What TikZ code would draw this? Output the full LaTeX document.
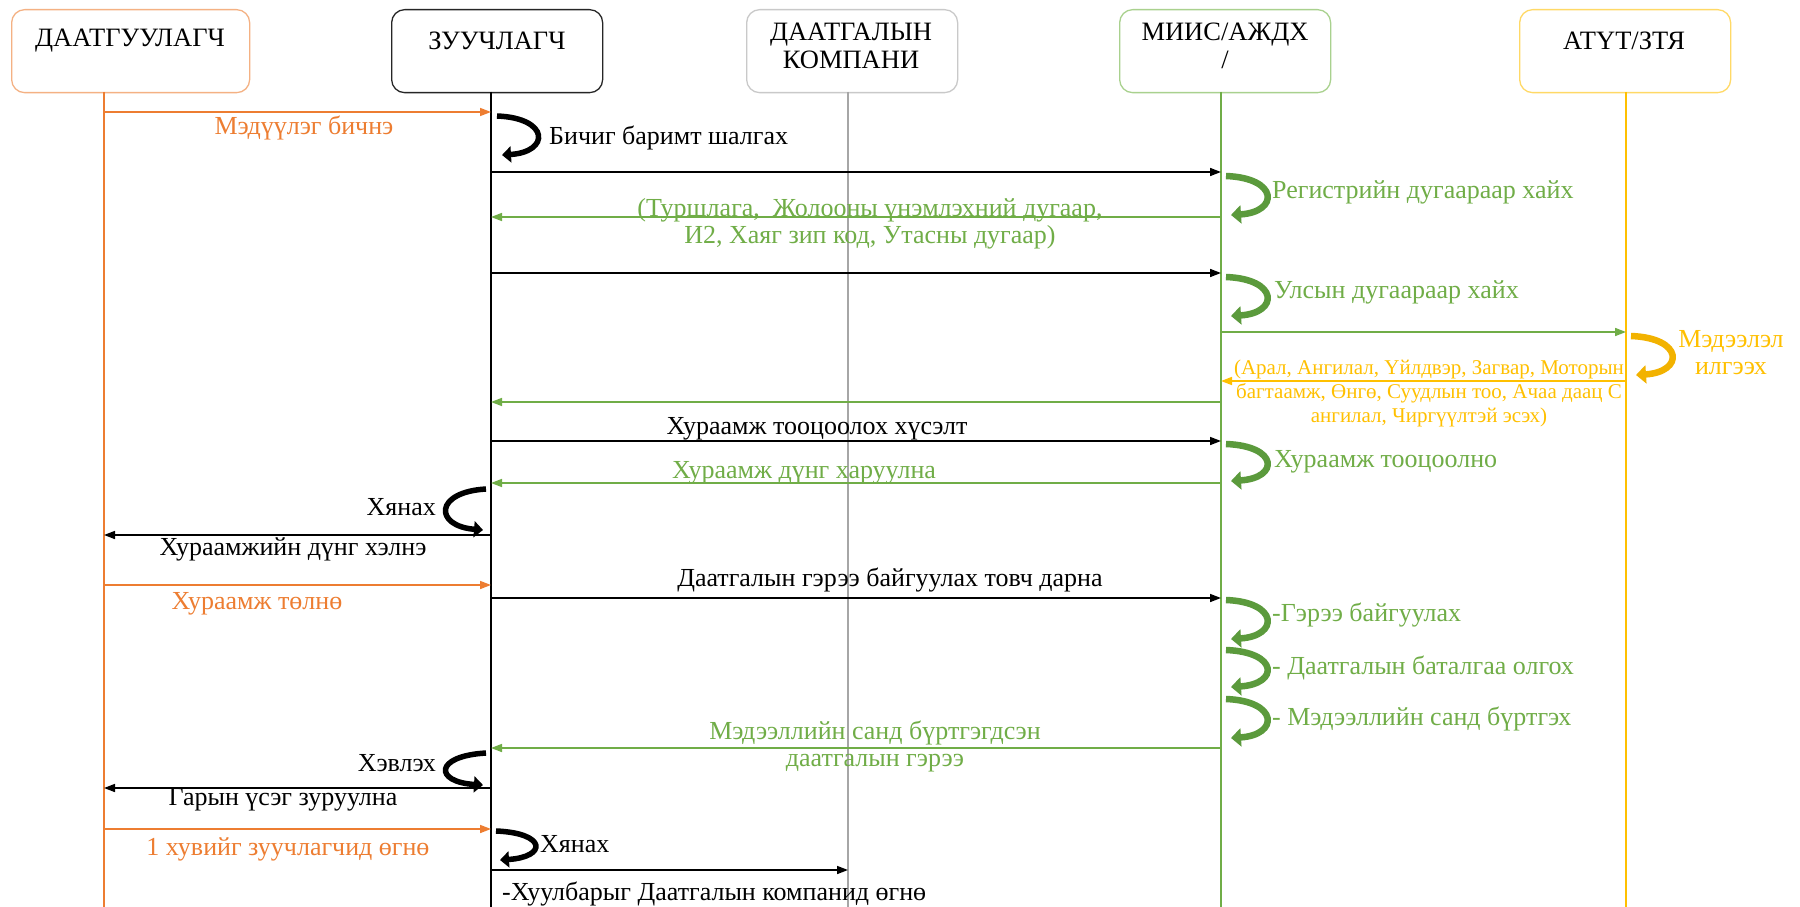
\documentclass[tikz,border=0pt]{standalone}
\usepackage{fontspec}
\setmainfont{Liberation Serif}
\usetikzlibrary{arrows.meta}
\definecolor{cor}{HTML}{ED7D31}
\definecolor{corb}{HTML}{F4B183}
\definecolor{cgr}{HTML}{70AD47}
\definecolor{cgrb}{HTML}{A9D18E}
\definecolor{cgrd}{HTML}{5B9A3C}
\definecolor{cye}{HTML}{FFC000}
\definecolor{cyeb}{HTML}{FFD966}
\definecolor{cyed}{HTML}{F2B200}
\definecolor{cgy}{HTML}{A6A6A6}
\definecolor{cgyb}{HTML}{C9C9C9}
\definecolor{cbk}{HTML}{262626}
\begin{document}
\begin{tikzpicture}[x=1pt,y=-1pt,
  hdr/.style={draw, rounded corners=13pt, line width=1.3pt, minimum width=211pt, minimum height=83pt, anchor=north west, inner sep=0pt},
  htxt/.style={font=\fontsize{26.5pt}{28pt}\selectfont, align=center, inner sep=0pt},
  lbl/.style={font=\fontsize{26pt}{27pt}\selectfont, align=center, inner sep=0pt, yshift=-3pt},
  life/.style={line width=1.3pt},
  msg/.style={line width=1.6pt, -{Triangle[length=11pt,width=8pt]}},
  loopk/.style={line width=5.5pt, black, -{Triangle[length=9pt,width=16pt]}},
  loopg/.style={line width=6.5pt, cgrd, -{Triangle[length=10pt,width=18pt]}},
  loopy/.style={line width=6.5pt, cyed, -{Triangle[length=10pt,width=18pt]}}]
\useasboundingbox (0,0) rectangle (1800,907);
\fill[white] (0,0) rectangle (1800,907);

% headers
\node[hdr, draw=corb, minimum width=238pt] (h1) at (11,9) {};
\node[hdr, draw=cbk] (h2) at (391,9) {};
\node[hdr, draw=cgyb] (h3) at (746,9) {};
\node[hdr, draw=cgrb] (h4) at (1119,9) {};
\node[hdr, draw=cyeb] (h5) at (1519,9) {};
\node[htxt] (t1) at (130,41) {ДААТГУУЛАГЧ};
\node[htxt] (t2) at (497,41) {ЗУУЧЛАГЧ};
\node[htxt] (t3) at (851,46) {ДААТГАЛЫН\\КОМПАНИ};
\node[htxt] (t4) at (1225,46) {МИИС/АЖДХ\\/};
\node[htxt] (t5) at (1624,41) {АТҮТ/ЗТЯ};

% lifelines
\coordinate (L1) at (104,92);
\coordinate (L2) at (491,92);
\coordinate (L3) at (848,92);
\coordinate (L4) at (1221,92);
\coordinate (L5) at (1626,92);
\coordinate (B1) at (104,907);
\coordinate (B2) at (491,907);
\coordinate (B3) at (848,907);
\coordinate (B4) at (1221,907);
\coordinate (B5) at (1626,907);
\draw[life, cor] (L1) -- (B1);
\draw[life, black] (L2) -- (B2);
\draw[life, cgy] (L3) -- (B3);
\draw[life, cgr] (L4) -- (B4);
\draw[life, cye] (L5) -- (B5);

% messages
\draw[msg, cor] (L1 |- 0,112) -- (L2 |- 0,112);
\draw[msg, black] (L2 |- 0,172) -- (L4 |- 0,172);
\draw[msg, cgr] (L4 |- 0,217) -- (L2 |- 0,217);
\draw[msg, black] (L2 |- 0,273) -- (L4 |- 0,273);
\draw[msg, cgr] (L4 |- 0,332) -- (L5 |- 0,332);
\draw[msg, cye] (L5 |- 0,381) -- (L4 |- 0,381);
\draw[msg, cgr] (L4 |- 0,402) -- (L2 |- 0,402);
\draw[msg, black] (L2 |- 0,441) -- (L4 |- 0,441);
\draw[msg, cgr] (L4 |- 0,483) -- (L2 |- 0,483);
\draw[msg, black] (L2 |- 0,535) -- (L1 |- 0,535);
\draw[msg, cor] (L1 |- 0,585) -- (L2 |- 0,585);
\draw[msg, black] (L2 |- 0,598) -- (L4 |- 0,598);
\draw[msg, cgr] (L4 |- 0,748) -- (L2 |- 0,748);
\draw[msg, black] (L2 |- 0,788) -- (L1 |- 0,788);
\draw[msg, cor] (L1 |- 0,829) -- (L2 |- 0,829);
\draw[msg, black] (L2 |- 0,870) -- (L3 |- 0,870);

% self loops
\draw[loopk] (497,116) .. controls (550,118) and (550,152) .. (502,155);
\draw[loopg] (1226,176) .. controls (1279,178) and (1279,212) .. (1231,215);
\draw[loopg] (1226,277) .. controls (1279,279) and (1279,313) .. (1231,316);
\draw[loopy] (1631,336) .. controls (1684,338) and (1684,372) .. (1636,375);
\draw[loopg] (1226,444) .. controls (1279,446) and (1279,478) .. (1231,481);
\draw[loopg] (1226,600) .. controls (1279,602) and (1279,636) .. (1231,639);
\draw[loopg] (1226,650) .. controls (1279,652) and (1279,684) .. (1231,687);
\draw[loopg] (1226,699) .. controls (1279,701) and (1279,735) .. (1231,738);
\draw[loopk] (486,489) .. controls (434,492) and (434,526) .. (483,530);
\draw[loopk] (486,753) .. controls (434,756) and (434,782) .. (483,785);
\draw[loopk] (496,831) .. controls (547,833) and (547,857) .. (500,860);

% labels
\node[lbl, text=cor] (a1) at (304,125) {Мэдүүлэг бичнэ};
\node[lbl, anchor=west] (a2) at (549,135) {Бичиг баримт шалгах};
\node[lbl, anchor=west, text=cgr] (a3) at (1272,189) {Регистрийн дугаараар хайх};
\node[lbl, text=cgr] (a4) at (870,221) {(Туршлага,\ \ Жолооны үнэмлэхний дугаар,\\И2, Хаяг зип код, Утасны дугаар)};
\node[lbl, anchor=west, text=cgr] (a5) at (1274,289) {Улсын дугаараар хайх};
\node[lbl, text=cye, yshift=3pt] (a6) at (1731,353) {Мэдээлэл\\илгээх};
\node[lbl, text=cye, font=\fontsize{21pt}{24pt}\selectfont] (a7) at (1429,390) {(Арал, Ангилал, Үйлдвэр, Загвар, Моторын\\багтаамж, Өнгө, Суудлын тоо, Ачаа даац С\\ангилал, Чиргүүлтэй эсэх)};
\node[lbl] (a8) at (817,426) {Хураамж тооцоолох хүсэлт};
\node[lbl, anchor=west, text=cgr] (a9) at (1274,459) {Хураамж тооцоолно};
\node[lbl, text=cgr] (a10) at (804,470) {Хураамж дүнг харуулна};
\node[lbl, anchor=east] (a11) at (436,504) {Хянах};
\node[lbl] (a12) at (293,546) {Хураамжийн дүнг хэлнэ};
\node[lbl, text=cor] (a13) at (257,601) {Хураамж төлнө};
\node[lbl] (a14) at (890,577) {Даатгалын гэрээ байгуулах товч дарна};
\node[lbl, anchor=west, text=cgr] (a15) at (1272,612) {-Гэрээ байгуулах};
\node[lbl, anchor=west, text=cgr] (a16) at (1272,665) {- Даатгалын баталгаа олгох};
\node[lbl, anchor=west, text=cgr] (a17) at (1272,716) {- Мэдээллийн санд бүртгэх};
\node[lbl, text=cgr] (a18) at (875,743) {Мэдээллийн санд бүртгэгдсэн\\даатгалын гэрээ};
\node[lbl, anchor=east] (a19) at (436,760) {Хэвлэх};
\node[lbl] (a20) at (283,797) {Гарын үсэг зуруулна};
\node[lbl, text=cor] (a21) at (288,846) {1 хувийг зуучлагчид өгнө};
\node[lbl, anchor=west] (a22) at (540,841) {Хянах};
\node[lbl, anchor=west] (a23) at (502,891) {-Хуулбарыг Даатгалын компанид өгнө};
\end{tikzpicture}
\end{document}
